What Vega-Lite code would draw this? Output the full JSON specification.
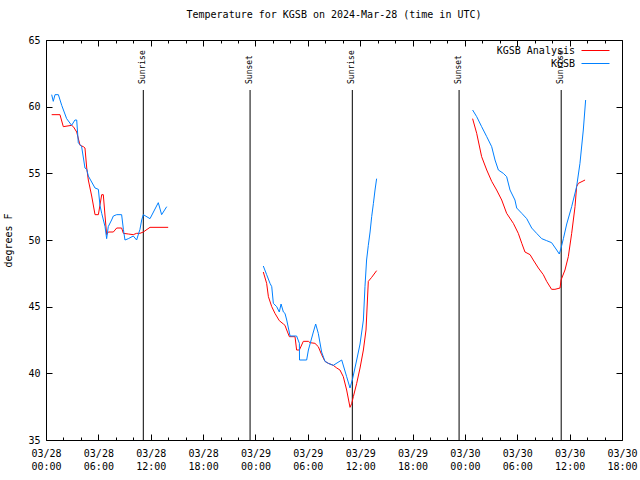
{
  "$schema": "https://vega.github.io/schema/vega-lite/v6.json",
  "width": 576,
  "height": 400,
  "autosize": {"type": "none"},
  "padding": {"left": 46, "top": 40, "right": 18, "bottom": 40},
  "background": "white",
  "title": {"text": "Temperature for KGSB on 2024-Mar-28 (time in UTC)", "font": "DejaVu Sans Mono", "fontSize": 10, "fontWeight": "normal", "anchor": "middle", "offset": 15, "color": "black"},
  "config": {
    "view": {"stroke": "black", "strokeWidth": 1},
    "axis": {"grid": false, "domain": false, "labelFont": "DejaVu Sans Mono", "labelFontSize": 10, "labelColor": "black", "tickColor": "black", "titleFont": "DejaVu Sans Mono", "titleFontSize": 10, "titleFontWeight": "normal", "titleColor": "black"},
    "legend": {"orient": "none", "legendX": 544, "legendY": 5, "title": null, "labelFont": "DejaVu Sans Mono", "labelFontSize": 10, "labelColor": "black", "symbolType": "M-3,0H3", "symbolSize": 87, "symbolStrokeWidth": 1, "labelAlign": "right", "labelOffset": -26, "padding": 0, "rowPadding": 2}
  },
  "resolve": {"axis": {"x": "independent", "y": "independent"}},
  "datasets": {
    "sun": [
      {"t": "2024-03-28T11:09:00Z", "label": "Sunrise"},
      {"t": "2024-03-28T23:23:00Z", "label": "Sunset"},
      {"t": "2024-03-29T11:06:00Z", "label": "Sunrise"},
      {"t": "2024-03-29T23:20:00Z", "label": "Sunset"},
      {"t": "2024-03-30T11:02:00Z", "label": "Sunrise"}
    ]
  },
  "layer": [
    {
      "data": {"name": "sun"},
      "mark": {"type": "rule", "color": "black", "strokeWidth": 1},
      "encoding": {
        "x": {"field": "t", "type": "temporal", "scale": {"type": "utc", "domain": [1711584000000, 1711821600000], "nice": false},
          "axis": {"orient": "top", "labels": false, "title": null, "values": [1711584000000,1711591200000,1711598400000,1711605600000,1711612800000,1711620000000,1711627200000,1711634400000,1711641600000,1711648800000,1711656000000,1711663200000,1711670400000,1711677600000,1711684800000,1711692000000,1711699200000,1711706400000,1711713600000,1711720800000,1711728000000,1711735200000,1711742400000,1711749600000,1711756800000,1711764000000,1711771200000,1711778400000,1711785600000,1711792800000,1711800000000,1711807200000,1711814400000,1711821600000],
            "tickSize": {"condition": {"test": "utchours(datum.value) % 6 === 0", "value": -6}, "value": -3}}},
        "y": {"datum": 61.25, "type": "quantitative", "scale": {"domain": [35, 65], "nice": false, "zero": false},
          "axis": {"orient": "right", "labels": false, "title": null, "values": [35, 40, 45, 50, 55, 60, 65], "tickSize": -6}},
        "y2": {"datum": 35}
      }
    },
    {
      "data": {"name": "sun"},
      "mark": {"type": "text", "angle": 270, "align": "left", "baseline": "middle", "font": "DejaVu Sans Mono", "fontSize": 8, "color": "black"},
      "encoding": {
        "x": {"field": "t", "type": "temporal", "axis": null},
        "y": {"datum": 61.7, "type": "quantitative", "axis": null},
        "text": {"field": "label"}
      }
    },
    {
      "data": {"values": [
        {"s": "KGSB Analysis", "seg": 1, "t": "2024-03-28T00:39:00Z", "temp": 59.4},
        {"s": "KGSB Analysis", "seg": 1, "t": "2024-03-28T01:36:00Z", "temp": 59.4},
        {"s": "KGSB Analysis", "seg": 1, "t": "2024-03-28T01:59:00Z", "temp": 58.5},
        {"s": "KGSB Analysis", "seg": 1, "t": "2024-03-28T02:56:00Z", "temp": 58.6},
        {"s": "KGSB Analysis", "seg": 1, "t": "2024-03-28T03:08:00Z", "temp": 58.5},
        {"s": "KGSB Analysis", "seg": 1, "t": "2024-03-28T03:31:00Z", "temp": 58.1},
        {"s": "KGSB Analysis", "seg": 1, "t": "2024-03-28T03:54:00Z", "temp": 57.1},
        {"s": "KGSB Analysis", "seg": 1, "t": "2024-03-28T04:17:00Z", "temp": 57.0},
        {"s": "KGSB Analysis", "seg": 1, "t": "2024-03-28T04:28:00Z", "temp": 56.9},
        {"s": "KGSB Analysis", "seg": 1, "t": "2024-03-28T04:40:00Z", "temp": 55.4},
        {"s": "KGSB Analysis", "seg": 1, "t": "2024-03-28T04:51:00Z", "temp": 54.5},
        {"s": "KGSB Analysis", "seg": 1, "t": "2024-03-28T05:14:00Z", "temp": 53.3},
        {"s": "KGSB Analysis", "seg": 1, "t": "2024-03-28T05:37:00Z", "temp": 51.9},
        {"s": "KGSB Analysis", "seg": 1, "t": "2024-03-28T06:00:00Z", "temp": 51.9},
        {"s": "KGSB Analysis", "seg": 1, "t": "2024-03-28T06:23:00Z", "temp": 53.4},
        {"s": "KGSB Analysis", "seg": 1, "t": "2024-03-28T06:34:00Z", "temp": 53.4},
        {"s": "KGSB Analysis", "seg": 1, "t": "2024-03-28T06:46:00Z", "temp": 51.8},
        {"s": "KGSB Analysis", "seg": 1, "t": "2024-03-28T06:57:00Z", "temp": 50.4},
        {"s": "KGSB Analysis", "seg": 1, "t": "2024-03-28T07:08:00Z", "temp": 50.6},
        {"s": "KGSB Analysis", "seg": 1, "t": "2024-03-28T07:43:00Z", "temp": 50.6},
        {"s": "KGSB Analysis", "seg": 1, "t": "2024-03-28T08:06:00Z", "temp": 50.9},
        {"s": "KGSB Analysis", "seg": 1, "t": "2024-03-28T08:40:00Z", "temp": 50.9},
        {"s": "KGSB Analysis", "seg": 1, "t": "2024-03-28T08:52:00Z", "temp": 50.5},
        {"s": "KGSB Analysis", "seg": 1, "t": "2024-03-28T09:26:00Z", "temp": 50.45},
        {"s": "KGSB Analysis", "seg": 1, "t": "2024-03-28T10:00:00Z", "temp": 50.4},
        {"s": "KGSB Analysis", "seg": 1, "t": "2024-03-28T10:23:00Z", "temp": 50.5},
        {"s": "KGSB Analysis", "seg": 1, "t": "2024-03-28T10:46:00Z", "temp": 50.5},
        {"s": "KGSB Analysis", "seg": 1, "t": "2024-03-28T11:09:00Z", "temp": 50.6},
        {"s": "KGSB Analysis", "seg": 1, "t": "2024-03-28T11:55:00Z", "temp": 50.95},
        {"s": "KGSB Analysis", "seg": 1, "t": "2024-03-28T14:00:00Z", "temp": 50.95},
        {"s": "KGSB Analysis", "seg": 2, "t": "2024-03-29T00:54:00Z", "temp": 47.6},
        {"s": "KGSB Analysis", "seg": 2, "t": "2024-03-29T01:17:00Z", "temp": 46.75},
        {"s": "KGSB Analysis", "seg": 2, "t": "2024-03-29T01:29:00Z", "temp": 45.75},
        {"s": "KGSB Analysis", "seg": 2, "t": "2024-03-29T01:52:00Z", "temp": 45.0},
        {"s": "KGSB Analysis", "seg": 2, "t": "2024-03-29T02:14:00Z", "temp": 44.5},
        {"s": "KGSB Analysis", "seg": 2, "t": "2024-03-29T02:44:00Z", "temp": 43.95},
        {"s": "KGSB Analysis", "seg": 2, "t": "2024-03-29T03:12:00Z", "temp": 43.7},
        {"s": "KGSB Analysis", "seg": 2, "t": "2024-03-29T03:23:00Z", "temp": 43.6},
        {"s": "KGSB Analysis", "seg": 2, "t": "2024-03-29T03:35:00Z", "temp": 43.25},
        {"s": "KGSB Analysis", "seg": 2, "t": "2024-03-29T03:53:00Z", "temp": 42.75},
        {"s": "KGSB Analysis", "seg": 2, "t": "2024-03-29T04:32:00Z", "temp": 42.75},
        {"s": "KGSB Analysis", "seg": 2, "t": "2024-03-29T04:43:00Z", "temp": 41.75},
        {"s": "KGSB Analysis", "seg": 2, "t": "2024-03-29T05:02:00Z", "temp": 41.75},
        {"s": "KGSB Analysis", "seg": 2, "t": "2024-03-29T05:29:00Z", "temp": 42.4},
        {"s": "KGSB Analysis", "seg": 2, "t": "2024-03-29T06:04:00Z", "temp": 42.4},
        {"s": "KGSB Analysis", "seg": 2, "t": "2024-03-29T06:15:00Z", "temp": 42.3},
        {"s": "KGSB Analysis", "seg": 2, "t": "2024-03-29T06:49:00Z", "temp": 42.25},
        {"s": "KGSB Analysis", "seg": 2, "t": "2024-03-29T07:12:00Z", "temp": 42.0},
        {"s": "KGSB Analysis", "seg": 2, "t": "2024-03-29T07:35:00Z", "temp": 41.4},
        {"s": "KGSB Analysis", "seg": 2, "t": "2024-03-29T07:58:00Z", "temp": 40.9},
        {"s": "KGSB Analysis", "seg": 2, "t": "2024-03-29T08:21:00Z", "temp": 40.75},
        {"s": "KGSB Analysis", "seg": 2, "t": "2024-03-29T08:55:00Z", "temp": 40.6},
        {"s": "KGSB Analysis", "seg": 2, "t": "2024-03-29T09:19:00Z", "temp": 40.4},
        {"s": "KGSB Analysis", "seg": 2, "t": "2024-03-29T09:41:00Z", "temp": 40.25},
        {"s": "KGSB Analysis", "seg": 2, "t": "2024-03-29T10:04:00Z", "temp": 39.75},
        {"s": "KGSB Analysis", "seg": 2, "t": "2024-03-29T10:27:00Z", "temp": 38.75},
        {"s": "KGSB Analysis", "seg": 2, "t": "2024-03-29T10:50:00Z", "temp": 37.45},
        {"s": "KGSB Analysis", "seg": 2, "t": "2024-03-29T11:02:00Z", "temp": 37.75},
        {"s": "KGSB Analysis", "seg": 2, "t": "2024-03-29T11:13:00Z", "temp": 38.25},
        {"s": "KGSB Analysis", "seg": 2, "t": "2024-03-29T11:36:00Z", "temp": 39.25},
        {"s": "KGSB Analysis", "seg": 2, "t": "2024-03-29T11:59:00Z", "temp": 40.4},
        {"s": "KGSB Analysis", "seg": 2, "t": "2024-03-29T12:22:00Z", "temp": 41.75},
        {"s": "KGSB Analysis", "seg": 2, "t": "2024-03-29T12:40:00Z", "temp": 43.25},
        {"s": "KGSB Analysis", "seg": 2, "t": "2024-03-29T12:56:00Z", "temp": 46.9},
        {"s": "KGSB Analysis", "seg": 2, "t": "2024-03-29T13:19:00Z", "temp": 47.2},
        {"s": "KGSB Analysis", "seg": 2, "t": "2024-03-29T13:53:00Z", "temp": 47.7},
        {"s": "KGSB Analysis", "seg": 3, "t": "2024-03-30T00:53:00Z", "temp": 59.1},
        {"s": "KGSB Analysis", "seg": 3, "t": "2024-03-30T01:21:00Z", "temp": 58.0},
        {"s": "KGSB Analysis", "seg": 3, "t": "2024-03-30T01:55:00Z", "temp": 56.25},
        {"s": "KGSB Analysis", "seg": 3, "t": "2024-03-30T02:30:00Z", "temp": 55.25},
        {"s": "KGSB Analysis", "seg": 3, "t": "2024-03-30T03:04:00Z", "temp": 54.4},
        {"s": "KGSB Analysis", "seg": 3, "t": "2024-03-30T03:38:00Z", "temp": 53.75},
        {"s": "KGSB Analysis", "seg": 3, "t": "2024-03-30T04:13:00Z", "temp": 53.0},
        {"s": "KGSB Analysis", "seg": 3, "t": "2024-03-30T04:47:00Z", "temp": 52.0},
        {"s": "KGSB Analysis", "seg": 3, "t": "2024-03-30T05:33:00Z", "temp": 51.25},
        {"s": "KGSB Analysis", "seg": 3, "t": "2024-03-30T06:07:00Z", "temp": 50.5},
        {"s": "KGSB Analysis", "seg": 3, "t": "2024-03-30T06:31:00Z", "temp": 49.75},
        {"s": "KGSB Analysis", "seg": 3, "t": "2024-03-30T06:53:00Z", "temp": 49.1},
        {"s": "KGSB Analysis", "seg": 3, "t": "2024-03-30T07:28:00Z", "temp": 48.9},
        {"s": "KGSB Analysis", "seg": 3, "t": "2024-03-30T07:50:00Z", "temp": 48.5},
        {"s": "KGSB Analysis", "seg": 3, "t": "2024-03-30T08:25:00Z", "temp": 47.9},
        {"s": "KGSB Analysis", "seg": 3, "t": "2024-03-30T08:59:00Z", "temp": 47.4},
        {"s": "KGSB Analysis", "seg": 3, "t": "2024-03-30T09:22:00Z", "temp": 46.9},
        {"s": "KGSB Analysis", "seg": 3, "t": "2024-03-30T09:56:00Z", "temp": 46.3},
        {"s": "KGSB Analysis", "seg": 3, "t": "2024-03-30T10:19:00Z", "temp": 46.3},
        {"s": "KGSB Analysis", "seg": 3, "t": "2024-03-30T10:54:00Z", "temp": 46.4},
        {"s": "KGSB Analysis", "seg": 3, "t": "2024-03-30T11:01:00Z", "temp": 47.0},
        {"s": "KGSB Analysis", "seg": 3, "t": "2024-03-30T11:28:00Z", "temp": 47.75},
        {"s": "KGSB Analysis", "seg": 3, "t": "2024-03-30T11:51:00Z", "temp": 48.75},
        {"s": "KGSB Analysis", "seg": 3, "t": "2024-03-30T12:14:00Z", "temp": 50.5},
        {"s": "KGSB Analysis", "seg": 3, "t": "2024-03-30T12:37:00Z", "temp": 52.5},
        {"s": "KGSB Analysis", "seg": 3, "t": "2024-03-30T12:48:00Z", "temp": 54.0},
        {"s": "KGSB Analysis", "seg": 3, "t": "2024-03-30T13:00:00Z", "temp": 54.25},
        {"s": "KGSB Analysis", "seg": 3, "t": "2024-03-30T13:46:00Z", "temp": 54.5},
        {"s": "KGSB", "seg": 1, "t": "2024-03-28T00:39:00Z", "temp": 60.9},
        {"s": "KGSB", "seg": 1, "t": "2024-03-28T00:50:00Z", "temp": 60.4},
        {"s": "KGSB", "seg": 1, "t": "2024-03-28T01:02:00Z", "temp": 60.9},
        {"s": "KGSB", "seg": 1, "t": "2024-03-28T01:25:00Z", "temp": 60.9},
        {"s": "KGSB", "seg": 1, "t": "2024-03-28T01:48:00Z", "temp": 60.1},
        {"s": "KGSB", "seg": 1, "t": "2024-03-28T02:22:00Z", "temp": 59.1},
        {"s": "KGSB", "seg": 1, "t": "2024-03-28T02:56:00Z", "temp": 58.6},
        {"s": "KGSB", "seg": 1, "t": "2024-03-28T03:19:00Z", "temp": 59.0},
        {"s": "KGSB", "seg": 1, "t": "2024-03-28T03:31:00Z", "temp": 59.0},
        {"s": "KGSB", "seg": 1, "t": "2024-03-28T03:42:00Z", "temp": 57.3},
        {"s": "KGSB", "seg": 1, "t": "2024-03-28T04:05:00Z", "temp": 57.0},
        {"s": "KGSB", "seg": 1, "t": "2024-03-28T04:28:00Z", "temp": 55.4},
        {"s": "KGSB", "seg": 1, "t": "2024-03-28T04:40:00Z", "temp": 55.3},
        {"s": "KGSB", "seg": 1, "t": "2024-03-28T04:51:00Z", "temp": 54.8},
        {"s": "KGSB", "seg": 1, "t": "2024-03-28T05:37:00Z", "temp": 53.9},
        {"s": "KGSB", "seg": 1, "t": "2024-03-28T06:00:00Z", "temp": 53.8},
        {"s": "KGSB", "seg": 1, "t": "2024-03-28T06:11:00Z", "temp": 52.6},
        {"s": "KGSB", "seg": 1, "t": "2024-03-28T06:23:00Z", "temp": 52.0},
        {"s": "KGSB", "seg": 1, "t": "2024-03-28T06:46:00Z", "temp": 51.0},
        {"s": "KGSB", "seg": 1, "t": "2024-03-28T06:57:00Z", "temp": 50.1},
        {"s": "KGSB", "seg": 1, "t": "2024-03-28T07:08:00Z", "temp": 51.0},
        {"s": "KGSB", "seg": 1, "t": "2024-03-28T07:31:00Z", "temp": 51.5},
        {"s": "KGSB", "seg": 1, "t": "2024-03-28T07:43:00Z", "temp": 51.8},
        {"s": "KGSB", "seg": 1, "t": "2024-03-28T08:06:00Z", "temp": 51.9},
        {"s": "KGSB", "seg": 1, "t": "2024-03-28T08:40:00Z", "temp": 51.9},
        {"s": "KGSB", "seg": 1, "t": "2024-03-28T08:52:00Z", "temp": 50.8},
        {"s": "KGSB", "seg": 1, "t": "2024-03-28T09:03:00Z", "temp": 50.0},
        {"s": "KGSB", "seg": 1, "t": "2024-03-28T09:26:00Z", "temp": 50.1},
        {"s": "KGSB", "seg": 1, "t": "2024-03-28T10:00:00Z", "temp": 50.3},
        {"s": "KGSB", "seg": 1, "t": "2024-03-28T10:23:00Z", "temp": 50.0},
        {"s": "KGSB", "seg": 1, "t": "2024-03-28T10:46:00Z", "temp": 50.8},
        {"s": "KGSB", "seg": 1, "t": "2024-03-28T10:58:00Z", "temp": 51.5},
        {"s": "KGSB", "seg": 1, "t": "2024-03-28T11:09:00Z", "temp": 51.9},
        {"s": "KGSB", "seg": 1, "t": "2024-03-28T11:55:00Z", "temp": 51.6},
        {"s": "KGSB", "seg": 1, "t": "2024-03-28T12:52:00Z", "temp": 52.8},
        {"s": "KGSB", "seg": 1, "t": "2024-03-28T13:15:00Z", "temp": 51.9},
        {"s": "KGSB", "seg": 1, "t": "2024-03-28T13:50:00Z", "temp": 52.5},
        {"s": "KGSB", "seg": 2, "t": "2024-03-29T00:54:00Z", "temp": 48.05},
        {"s": "KGSB", "seg": 2, "t": "2024-03-29T01:17:00Z", "temp": 47.4},
        {"s": "KGSB", "seg": 2, "t": "2024-03-29T01:40:00Z", "temp": 46.75},
        {"s": "KGSB", "seg": 2, "t": "2024-03-29T01:52:00Z", "temp": 46.5},
        {"s": "KGSB", "seg": 2, "t": "2024-03-29T02:03:00Z", "temp": 45.25},
        {"s": "KGSB", "seg": 2, "t": "2024-03-29T02:26:00Z", "temp": 45.0},
        {"s": "KGSB", "seg": 2, "t": "2024-03-29T02:44:00Z", "temp": 44.6},
        {"s": "KGSB", "seg": 2, "t": "2024-03-29T02:56:00Z", "temp": 45.2},
        {"s": "KGSB", "seg": 2, "t": "2024-03-29T03:12:00Z", "temp": 44.6},
        {"s": "KGSB", "seg": 2, "t": "2024-03-29T03:23:00Z", "temp": 44.5},
        {"s": "KGSB", "seg": 2, "t": "2024-03-29T03:35:00Z", "temp": 44.0},
        {"s": "KGSB", "seg": 2, "t": "2024-03-29T03:58:00Z", "temp": 42.8},
        {"s": "KGSB", "seg": 2, "t": "2024-03-29T04:43:00Z", "temp": 42.8},
        {"s": "KGSB", "seg": 2, "t": "2024-03-29T05:02:00Z", "temp": 42.25},
        {"s": "KGSB", "seg": 2, "t": "2024-03-29T05:03:00Z", "temp": 41.0},
        {"s": "KGSB", "seg": 2, "t": "2024-03-29T05:52:00Z", "temp": 41.0},
        {"s": "KGSB", "seg": 2, "t": "2024-03-29T06:04:00Z", "temp": 41.75},
        {"s": "KGSB", "seg": 2, "t": "2024-03-29T06:38:00Z", "temp": 43.1},
        {"s": "KGSB", "seg": 2, "t": "2024-03-29T06:54:00Z", "temp": 43.7},
        {"s": "KGSB", "seg": 2, "t": "2024-03-29T07:12:00Z", "temp": 43.0},
        {"s": "KGSB", "seg": 2, "t": "2024-03-29T07:35:00Z", "temp": 41.6},
        {"s": "KGSB", "seg": 2, "t": "2024-03-29T07:58:00Z", "temp": 40.9},
        {"s": "KGSB", "seg": 2, "t": "2024-03-29T08:21:00Z", "temp": 40.75},
        {"s": "KGSB", "seg": 2, "t": "2024-03-29T08:55:00Z", "temp": 40.6},
        {"s": "KGSB", "seg": 2, "t": "2024-03-29T09:53:00Z", "temp": 41.0},
        {"s": "KGSB", "seg": 2, "t": "2024-03-29T10:27:00Z", "temp": 39.75},
        {"s": "KGSB", "seg": 2, "t": "2024-03-29T10:50:00Z", "temp": 38.9},
        {"s": "KGSB", "seg": 2, "t": "2024-03-29T11:08:00Z", "temp": 39.6},
        {"s": "KGSB", "seg": 2, "t": "2024-03-29T11:36:00Z", "temp": 41.0},
        {"s": "KGSB", "seg": 2, "t": "2024-03-29T11:59:00Z", "temp": 42.2},
        {"s": "KGSB", "seg": 2, "t": "2024-03-29T12:22:00Z", "temp": 44.0},
        {"s": "KGSB", "seg": 2, "t": "2024-03-29T12:33:00Z", "temp": 46.5},
        {"s": "KGSB", "seg": 2, "t": "2024-03-29T12:44:00Z", "temp": 48.5},
        {"s": "KGSB", "seg": 2, "t": "2024-03-29T12:56:00Z", "temp": 49.6},
        {"s": "KGSB", "seg": 2, "t": "2024-03-29T13:08:00Z", "temp": 50.6},
        {"s": "KGSB", "seg": 2, "t": "2024-03-29T13:19:00Z", "temp": 51.75},
        {"s": "KGSB", "seg": 2, "t": "2024-03-29T13:31:00Z", "temp": 52.75},
        {"s": "KGSB", "seg": 2, "t": "2024-03-29T13:42:00Z", "temp": 53.75},
        {"s": "KGSB", "seg": 2, "t": "2024-03-29T13:53:00Z", "temp": 54.6},
        {"s": "KGSB", "seg": 3, "t": "2024-03-30T00:53:00Z", "temp": 59.75},
        {"s": "KGSB", "seg": 3, "t": "2024-03-30T01:21:00Z", "temp": 59.25},
        {"s": "KGSB", "seg": 3, "t": "2024-03-30T01:55:00Z", "temp": 58.5},
        {"s": "KGSB", "seg": 3, "t": "2024-03-30T02:30:00Z", "temp": 57.75},
        {"s": "KGSB", "seg": 3, "t": "2024-03-30T03:04:00Z", "temp": 57.0},
        {"s": "KGSB", "seg": 3, "t": "2024-03-30T03:27:00Z", "temp": 56.0},
        {"s": "KGSB", "seg": 3, "t": "2024-03-30T03:50:00Z", "temp": 55.25},
        {"s": "KGSB", "seg": 3, "t": "2024-03-30T04:24:00Z", "temp": 55.0},
        {"s": "KGSB", "seg": 3, "t": "2024-03-30T04:47:00Z", "temp": 54.75},
        {"s": "KGSB", "seg": 3, "t": "2024-03-30T05:10:00Z", "temp": 53.75},
        {"s": "KGSB", "seg": 3, "t": "2024-03-30T05:44:00Z", "temp": 53.0},
        {"s": "KGSB", "seg": 3, "t": "2024-03-30T05:56:00Z", "temp": 52.4},
        {"s": "KGSB", "seg": 3, "t": "2024-03-30T06:31:00Z", "temp": 52.0},
        {"s": "KGSB", "seg": 3, "t": "2024-03-30T07:05:00Z", "temp": 51.6},
        {"s": "KGSB", "seg": 3, "t": "2024-03-30T07:39:00Z", "temp": 50.9},
        {"s": "KGSB", "seg": 3, "t": "2024-03-30T08:13:00Z", "temp": 50.5},
        {"s": "KGSB", "seg": 3, "t": "2024-03-30T08:48:00Z", "temp": 50.1},
        {"s": "KGSB", "seg": 3, "t": "2024-03-30T09:22:00Z", "temp": 49.95},
        {"s": "KGSB", "seg": 3, "t": "2024-03-30T09:56:00Z", "temp": 49.8},
        {"s": "KGSB", "seg": 3, "t": "2024-03-30T10:31:00Z", "temp": 49.25},
        {"s": "KGSB", "seg": 3, "t": "2024-03-30T10:49:00Z", "temp": 48.95},
        {"s": "KGSB", "seg": 3, "t": "2024-03-30T11:01:00Z", "temp": 49.4},
        {"s": "KGSB", "seg": 3, "t": "2024-03-30T11:17:00Z", "temp": 50.1},
        {"s": "KGSB", "seg": 3, "t": "2024-03-30T11:40:00Z", "temp": 51.2},
        {"s": "KGSB", "seg": 3, "t": "2024-03-30T12:14:00Z", "temp": 52.5},
        {"s": "KGSB", "seg": 3, "t": "2024-03-30T12:48:00Z", "temp": 54.0},
        {"s": "KGSB", "seg": 3, "t": "2024-03-30T13:11:00Z", "temp": 55.75},
        {"s": "KGSB", "seg": 3, "t": "2024-03-30T13:34:00Z", "temp": 58.25},
        {"s": "KGSB", "seg": 3, "t": "2024-03-30T13:50:00Z", "temp": 60.5}
      ]},
      "mark": {"type": "line", "strokeWidth": 1},
      "encoding": {
        "x": {"field": "t", "type": "temporal", "scale": {"type": "utc", "domain": [1711584000000, 1711821600000], "nice": false},
          "axis": {"orient": "bottom", "title": null, "labelOverlap": false, "labelFlush": false, "labelPadding": 14, "labelLineHeight": 13, "labelBaseline": "top",
            "values": [1711584000000,1711591200000,1711598400000,1711605600000,1711612800000,1711620000000,1711627200000,1711634400000,1711641600000,1711648800000,1711656000000,1711663200000,1711670400000,1711677600000,1711684800000,1711692000000,1711699200000,1711706400000,1711713600000,1711720800000,1711728000000,1711735200000,1711742400000,1711749600000,1711756800000,1711764000000,1711771200000,1711778400000,1711785600000,1711792800000,1711800000000,1711807200000,1711814400000,1711821600000],
            "tickSize": {"condition": {"test": "utchours(datum.value) % 6 === 0", "value": -6}, "value": -3},
            "labelExpr": "utchours(datum.value) % 6 === 0 ? [utcFormat(datum.value, '%m/%d'), utcFormat(datum.value, '%H:%M')] : ''"}},
        "y": {"field": "temp", "type": "quantitative", "scale": {"domain": [35, 65], "nice": false, "zero": false},
          "axis": {"orient": "left", "title": "degrees F", "values": [35, 40, 45, 50, 55, 60, 65], "tickSize": -6, "labelPadding": 12, "titlePadding": 14}},
        "color": {"field": "s", "type": "nominal", "scale": {"domain": ["KGSB Analysis", "KGSB"], "range": ["#ff0000", "#0080ff"]}},
        "detail": {"field": "seg"}
      }
    }
  ]
}
